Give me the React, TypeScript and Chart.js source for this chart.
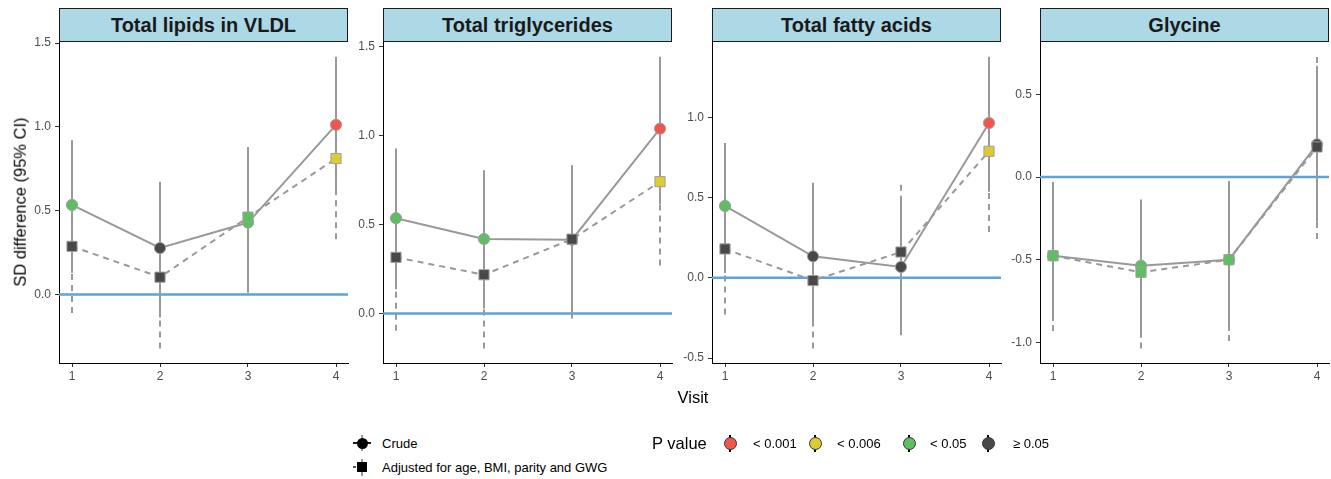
import React, { useEffect, useRef } from 'react';
import { Chart, registerables } from 'chart.js';

Chart.register(...registerables);

// ---------- data ----------
const visits = [1, 2, 3, 4];
const panelTitles = ['Total lipids in VLDL', 'Total triglycerides', 'Total fatty acids', 'Glycine'];

const pLevels = ['< 0.001', '< 0.006', '< 0.05', '≥ 0.05'];
const pColors = ['#F0564F', '#DCCB33', '#5DBE62', '#484848'];

// Total lipids in VLDL
const lipidsCrude = [0.534, 0.277, 0.429, 1.012];
const lipidsCrudeLo = [0.13, -0.138, 0.01, 0.603];
const lipidsCrudeHi = [0.92, 0.672, 0.88, 1.418];
const lipidsCrudeP = ['< 0.05', '≥ 0.05', '< 0.05', '< 0.001'];
const lipidsAdj = [0.287, 0.103, 0.461, 0.811];
const lipidsAdjLo = [-0.11, -0.322, 0.06, 0.33];
const lipidsAdjHi = [0.69, 0.53, 0.86, 1.29];
const lipidsAdjP = ['≥ 0.05', '≥ 0.05', '< 0.05', '< 0.006'];
const lipidsTicks = [0, 0.5, 1.0, 1.5];

// Total triglycerides
const tgCrude = [0.536, 0.419, 0.415, 1.039];
const tgCrudeLo = [0.136, 0.028, -0.028, 0.616];
const tgCrudeHi = [0.927, 0.806, 0.834, 1.443];
const tgCrudeP = ['< 0.05', '< 0.05', '≥ 0.05', '< 0.001'];
const tgAdj = [0.316, 0.218, 0.418, 0.741];
const tgAdjLo = [-0.097, -0.196, 0.0, 0.27];
const tgAdjHi = [0.73, 0.63, 0.83, 1.21];
const tgAdjP = ['≥ 0.05', '≥ 0.05', '≥ 0.05', '< 0.006'];
const tgTicks = [0, 0.5, 1.0, 1.5];

// Total fatty acids
const faCrude = [0.448, 0.134, 0.068, 0.965];
const faCrudeLo = [0.03, -0.269, -0.358, 0.537];
const faCrudeHi = [0.84, 0.593, 0.485, 1.378];
const faCrudeP = ['< 0.05', '≥ 0.05', '≥ 0.05', '< 0.001'];
const faAdj = [0.18, -0.017, 0.161, 0.789];
const faAdjLo = [-0.228, -0.44, -0.28, 0.285];
const faAdjHi = [0.59, 0.41, 0.603, 1.29];
const faAdjP = ['≥ 0.05', '≥ 0.05', '≥ 0.05', '< 0.006'];
const faTicks = [-0.5, 0, 0.5, 1.0];

// Glycine
const glyCrude = [-0.475, -0.535, -0.499, 0.198];
const glyCrudeLo = [-0.87, -0.969, -0.93, -0.269];
const glyCrudeHi = [-0.048, -0.148, -0.028, 0.673];
const glyCrudeP = ['< 0.05', '< 0.05', '< 0.05', '≥ 0.05'];
const glyAdj = [-0.475, -0.575, -0.499, 0.182];
const glyAdjLo = [-0.93, -1.035, -0.99, -0.374];
const glyAdjHi = [-0.018, -0.108, -0.008, 0.727];
const glyAdjP = ['< 0.05', '< 0.05', '< 0.05', '≥ 0.05'];
const glyTicks = [-1.0, -0.5, 0, 0.5];

const panels = [
  { title: panelTitles[0], crude: lipidsCrude, crudeLo: lipidsCrudeLo, crudeHi: lipidsCrudeHi, crudeP: lipidsCrudeP, adj: lipidsAdj, adjLo: lipidsAdjLo, adjHi: lipidsAdjHi, adjP: lipidsAdjP, ticks: lipidsTicks },
  { title: panelTitles[1], crude: tgCrude, crudeLo: tgCrudeLo, crudeHi: tgCrudeHi, crudeP: tgCrudeP, adj: tgAdj, adjLo: tgAdjLo, adjHi: tgAdjHi, adjP: tgAdjP, ticks: tgTicks },
  { title: panelTitles[2], crude: faCrude, crudeLo: faCrudeLo, crudeHi: faCrudeHi, crudeP: faCrudeP, adj: faAdj, adjLo: faAdjLo, adjHi: faAdjHi, adjP: faAdjP, ticks: faTicks },
  { title: panelTitles[3], crude: glyCrude, crudeLo: glyCrudeLo, crudeHi: glyCrudeHi, crudeP: glyCrudeP, adj: glyAdj, adjLo: glyAdjLo, adjHi: glyAdjHi, adjP: glyAdjP, ticks: glyTicks },
];

// ---------- layout ----------
const FONT = '"Liberation Sans", Arial, Helvetica, sans-serif';
const panelLefts = [59, 383, 712, 1040];
const PLOT_W = 289;
const PLOT_TOP = 41;
const PLOT_H = 322;
const Y_AXIS_W = 45;
const X_AXIS_H = 28;
const PAD_TOP = 10;
const PAD_RIGHT = 10;
const GRAY = '#999999';
// x range chosen so that the visits fall on whole pixels (13px inset, 88px apart)
const X_MIN = 1 - 13 / 88;
const X_MAX = 4 + 12 / 88;

const colorOf = (p: string) => pColors[pLevels.indexOf(p)];

function PanelChart({ idx }: { idx: number }) {
  const ref = useRef<HTMLCanvasElement | null>(null);
  const p = panels[idx];
  const left = panelLefts[idx] - Y_AXIS_W;
  const top = PLOT_TOP - PAD_TOP;
  const width = PLOT_W + Y_AXIS_W + PAD_RIGHT;
  const height = PLOT_H + PAD_TOP + X_AXIS_H;

  useEffect(() => {
    if (!ref.current) return;
    const all = [...p.crudeLo, ...p.crudeHi, ...p.adjLo, ...p.adjHi];
    const lo = Math.min(...all);
    const hi = Math.max(...all);
    const ex = (hi - lo) * 0.05;
    const est = (a: number[]) => visits.map((v, i) => ({ x: v, y: a[i] }));
    const err = (l: number[], h: number[]) =>
      visits.flatMap((v, i) => [{ x: v, y: l[i] }, { x: v, y: h[i] }, { x: v, y: null as any }]);

    const chart = new Chart(ref.current, {
      type: 'line',
      data: {
        datasets: [
          {
            label: 'adj points', data: est(p.adj), showLine: false, order: 0,
            pointStyle: 'rect', pointRadius: 7.2,
            pointBackgroundColor: p.adjP.map(colorOf), pointBorderColor: '#a0a0a0', pointBorderWidth: 1,
          },
          {
            label: 'crude points', data: est(p.crude), showLine: false, order: 1,
            pointStyle: 'circle', pointRadius: 5.6,
            pointBackgroundColor: p.crudeP.map(colorOf), pointBorderColor: '#a0a0a0', pointBorderWidth: 1,
          },
          {
            label: 'crude line', data: est(p.crude), order: 2, borderColor: GRAY, borderWidth: 2,
            pointRadius: 0, tension: 0,
          },
          {
            label: 'adj line', data: est(p.adj), order: 3, borderColor: GRAY, borderWidth: 2,
            borderDash: [6, 5], pointRadius: 0, tension: 0,
          },
          {
            label: 'crude ci', data: err(p.crudeLo, p.crudeHi), order: 4, borderColor: GRAY, borderWidth: 2,
            pointRadius: 0, spanGaps: false,
          },
          {
            label: 'adj ci', data: err(p.adjLo, p.adjHi), order: 5, borderColor: GRAY, borderWidth: 2,
            borderDash: [6, 5], pointRadius: 0, spanGaps: false,
          },
          {
            label: 'zero', data: [{ x: X_MIN, y: 0 }, { x: X_MAX, y: 0 }], order: 6,
            borderColor: '#5DA2DB', borderWidth: 2.5, pointRadius: 0,
          },
        ],
      },
      options: {
        animation: false,
        responsive: false,
        events: [],
        layout: { padding: { top: PAD_TOP, right: PAD_RIGHT, left: 0, bottom: 0 } },
        plugins: { legend: { display: false }, tooltip: { enabled: false }, title: { display: false } },
        scales: {
          x: {
            type: 'linear', min: X_MIN, max: X_MAX,
            afterBuildTicks: (s: any) => { s.ticks = visits.map((v) => ({ value: v })); },
            afterFit: (s: any) => { s.height = X_AXIS_H; },
            grid: { drawOnChartArea: false, drawTicks: true, tickLength: 4, color: '#333333', lineWidth: 1 },
            border: { display: true, color: '#000000', width: 1 },
            ticks: {
              color: '#4D4D4D', font: { family: FONT, size: 12 }, padding: 2,
              autoSkip: false, maxRotation: 0, callback: (v: any) => String(v),
            },
          },
          y: {
            type: 'linear', min: lo - ex, max: hi + ex,
            afterBuildTicks: (s: any) => { s.ticks = p.ticks.map((v) => ({ value: v })); },
            afterFit: (s: any) => { s.width = Y_AXIS_W; },
            grid: { drawOnChartArea: false, drawTicks: true, tickLength: 4, color: '#333333', lineWidth: 1 },
            border: { display: true, color: '#000000', width: 1 },
            ticks: {
              color: '#4D4D4D', font: { family: FONT, size: 12 }, padding: 4,
              autoSkip: false, callback: (v: any) => Number(v).toFixed(1),
            },
          },
        },
      } as any,
    });
    return () => chart.destroy();
  }, [idx]);

  return (
    <>
      <canvas
        ref={ref}
        width={width}
        height={height}
        style={{ position: 'absolute', left, top, width, height }}
      />
      <div
        style={{
          position: 'absolute', left: panelLefts[idx], top: 8, width: PLOT_W, height: 34,
          boxSizing: 'border-box', border: '1.3px solid #1a1a1a', background: '#ADD8E6',
          display: 'flex', alignItems: 'center', justifyContent: 'center',
          fontFamily: FONT, fontWeight: 'bold', fontSize: 20, color: '#1a1a1a',
        }}
      >
        {p.title}
      </div>
    </>
  );
}

function Txt({ x, y, size, children, color = '#000', center = false }: any) {
  return (
    <div
      style={{
        position: 'absolute', left: x, top: y, transform: center ? 'translate(-50%, -50%)' : 'translateY(-50%)',
        fontFamily: FONT, fontSize: size, color, whiteSpace: 'nowrap', lineHeight: 1,
      }}
    >
      {children}
    </div>
  );
}

function Abs(props: any) {
  return <div style={{ position: 'absolute', ...props }} />;
}

export default function App() {
  const pIconX = [730, 815, 909, 988];
  const pLabelX = [753, 837, 930, 1013];
  return (
    <div style={{ position: 'absolute', left: 0, top: 0, width: 1331, height: 479, background: '#fff', overflow: 'hidden' }}>
      {panels.map((_, i) => <PanelChart key={i} idx={i} />)}

      {/* axis titles */}
      <div
        style={{
          position: 'absolute', left: 20, top: 202, transform: 'translate(-50%, -50%) rotate(-90deg)',
          fontFamily: FONT, fontSize: 16.5, color: '#000', whiteSpace: 'nowrap', lineHeight: 1,
        }}
      >
        SD difference (95% CI)
      </div>
      <Txt x={693} y={397} size={16.5} center>Visit</Txt>

      {/* model legend */}
      <Abs left={361} top={435} width={2} height={16} background={GRAY} />
      <Abs left={353} top={442} width={18} height={2} background="#1a1a1a" />
      <Abs left={356.5} top={437.5} width={11} height={11} borderRadius="50%" background="#000" />
      <Txt x={382} y={443} size={13}>Crude</Txt>

      <Abs left={361} top={459} width={2} height={17} background={GRAY} />
      <Abs left={353} top={466} width={3} height={2} background="#555" />
      <Abs left={357} top={462} width={10} height={10} background="#000" />
      <Txt x={382} y={467} size={13}>Adjusted for age, BMI, parity and GWG</Txt>

      {/* P value legend */}
      <Txt x={652} y={443} size={16.5}>P value</Txt>
      {pLevels.map((lvl, i) => (
        <React.Fragment key={lvl}>
          <Abs left={pIconX[i] - 1} top={435} width={2} height={17} background="#000" />
          <Abs
            left={pIconX[i] - 6.5} top={436.5} width={13} height={13} boxSizing="border-box"
            borderRadius="50%" background={pColors[i]} border="1px solid #333"
          />
          <Txt x={pLabelX[i]} y={443} size={13}>{lvl}</Txt>
        </React.Fragment>
      ))}
    </div>
  );
}
